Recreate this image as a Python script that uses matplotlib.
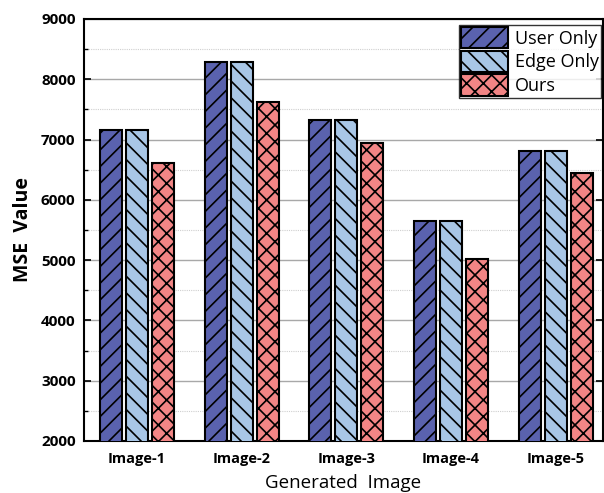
import matplotlib
matplotlib.use("Agg")
import matplotlib.pyplot as plt
import numpy as np
from matplotlib.ticker import MultipleLocator

images = ["Image-1", "Image-2", "Image-3", "Image-4", "Image-5"]
user_only = [7160, 8290, 7325, 5650, 6810]
edge_only = [7160, 8290, 7325, 5650, 6810]
ours = [6610, 7625, 6950, 5025, 6440]

series = [
    ("User Only", user_only, "#5A62AE", "//"),
    ("Edge Only", edge_only, "#A8C6E6", "\\\\"),
    ("Ours", ours, "#F28585", "xx"),
]

plt.rcParams["font.family"] = ["Open Sans", "DejaVu Sans"]
plt.rcParams["hatch.linewidth"] = 1.2

fig = plt.figure(figsize=(6.04, 4.93), dpi=100)
ax = fig.add_axes([0.139, 0.1055, 0.859, 0.856])

x = np.arange(1, len(images) + 1)
width = 0.21
step = 0.248
for i, (name, vals, color, hatch) in enumerate(series):
    ax.bar(x + (i - 1) * step, vals, width, color=color, edgecolor="black",
           linewidth=1.5, hatch=hatch, label=name, zorder=3)

ax.set_xlim(0.495, 5.45)
ax.set_ylim(2000, 9000)
ax.yaxis.set_major_locator(MultipleLocator(1000))
ax.yaxis.set_minor_locator(MultipleLocator(500))
ax.grid(axis="y", which="major", color="#a8a8a8", linewidth=1.0, zorder=0)
ax.grid(axis="y", which="minor", color="#cfcfcf", linewidth=0.8,
        linestyle=(0, (1, 1)), zorder=0)

ax.set_xticks(x)
ax.set_xticklabels(images, fontsize=10.5, fontweight="bold")
ax.tick_params(axis="x", length=0, pad=8)
ax.tick_params(axis="y", which="major", direction="in", length=5, width=1.2,
               labelsize=11, right=True, pad=6)
ax.tick_params(axis="y", which="minor", direction="in", length=3, width=1.0,
               right=False)
for lab in ax.get_yticklabels():
    lab.set_fontweight("bold")

for sp in ax.spines.values():
    sp.set_linewidth(1.5)

ax.set_ylabel("MSE  Value", fontsize=14, fontweight="bold", labelpad=6)
ax.set_xlabel("Generated  Image", fontsize=13.5, labelpad=6)

leg = ax.legend(loc="upper right", bbox_to_anchor=(0.996, 0.986),
                borderaxespad=0, fontsize=13, frameon=True, fancybox=False,
                edgecolor="black", borderpad=0.12, handlelength=2.6,
                handleheight=1.45, labelspacing=0.12, handletextpad=0.35)
leg.get_frame().set_linewidth(1.0)

plt.savefig("out.png", dpi=100, facecolor="white")
